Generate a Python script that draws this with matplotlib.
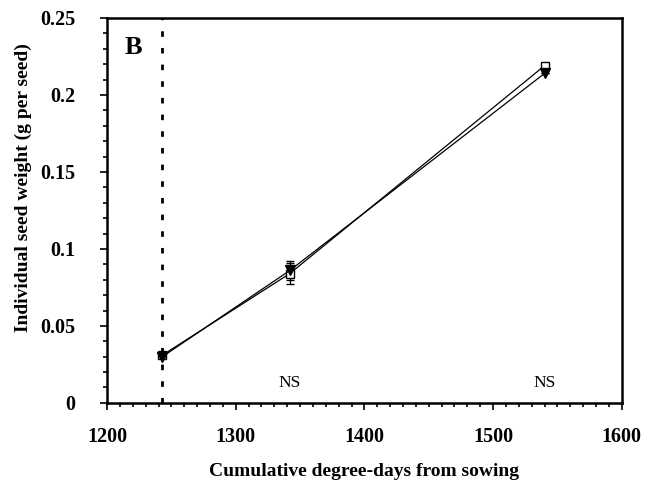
import matplotlib.pyplot as plt
from matplotlib.ticker import MultipleLocator

# 数据
degree_days = [1243, 1342, 1540]
seed_open = [0.031, 0.084, 0.219]
seed_filled = [0.030, 0.086, 0.214]
err_open = [0.0, 0.007, 0.0]
err_filled = [0.0, 0.006, 0.0]
anthesis = 1243
ns_x = [1342, 1540]
ns_y = 0.013

plt.rcParams['font.family'] = ['Liberation Serif', 'DejaVu Serif']

fig = plt.figure(figsize=(6.65, 4.86), dpi=100)
ax = fig.add_axes([0.161, 0.171, 0.774, 0.792])

# 空心方块在下, 实心三角在上
ax.errorbar(degree_days, seed_open, yerr=err_open, color='black', lw=0.9,
            marker='s', ms=6, mfc='white', capsize=3, elinewidth=0.9)
ax.errorbar(degree_days, seed_filled, yerr=err_filled, color='black', lw=0.9,
            marker='v', ms=7, mfc='black', capsize=3, elinewidth=0.9)

ax.axvline(anthesis, color='black', ls=(0, (2, 4)), lw=2)

for x in ns_x:
    ax.text(x, ns_y, 'NS', ha='center', va='center', fontsize=12.5)

ax.text(1214, 0.231, 'B', fontsize=19, fontweight='bold', ha='left', va='center')

ax.set_xlim(1200, 1600)
ax.set_ylim(0, 0.25)
ax.xaxis.set_major_locator(MultipleLocator(100))
ax.xaxis.set_minor_locator(MultipleLocator(10))
ax.yaxis.set_major_locator(MultipleLocator(0.05))
ax.yaxis.set_minor_locator(MultipleLocator(0.01))
ax.set_yticks([0, 0.05, 0.1, 0.15, 0.2, 0.25])
ax.set_yticklabels(['0', '0.05', '0.1', '0.15', '0.2', '0.25'])

ax.tick_params(which='both', direction='out', width=1.2, labelsize=14.5)
ax.tick_params(which='major', length=5)
ax.tick_params(which='minor', length=3)
ax.tick_params(axis='x', pad=12)
ax.tick_params(axis='y', pad=18)
for lab in ax.get_xticklabels() + ax.get_yticklabels():
    lab.set_fontweight('bold')

for sp in ax.spines.values():
    sp.set_linewidth(1.8)

ax.set_xlabel('Cumulative degree-days from sowing', fontsize=14,
              fontweight='bold', labelpad=12)
ax.set_ylabel('Individual seed weight (g per seed)', fontsize=14,
              fontweight='bold')
ax.yaxis.set_label_coords(-0.145, 0.56)

plt.savefig('out.png', dpi=100)
